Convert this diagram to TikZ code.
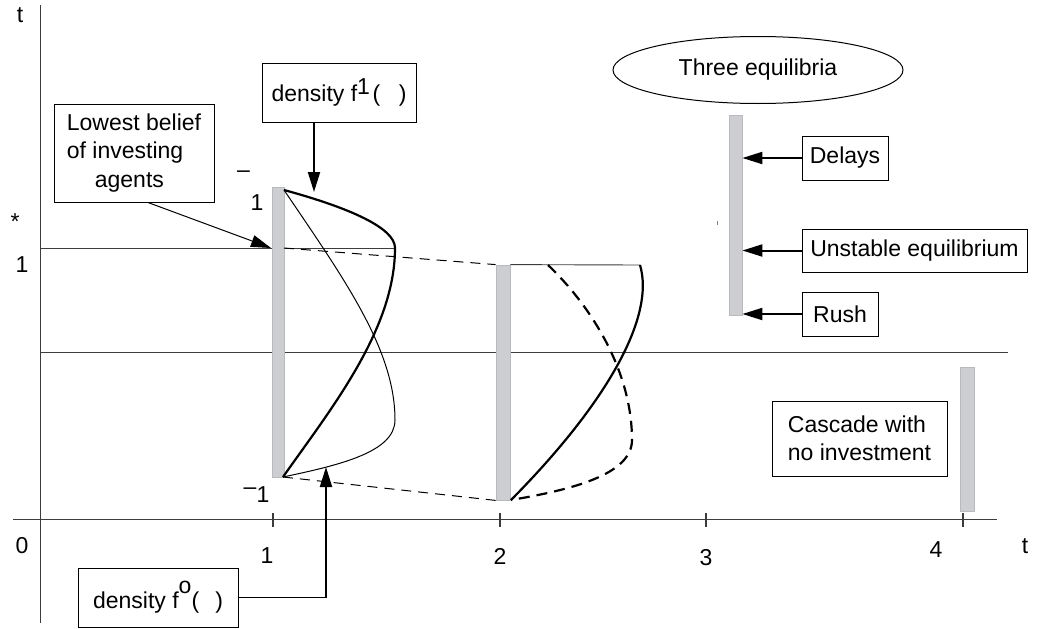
\documentclass[tikz,border=0pt]{standalone}
\usepackage{fontspec}
\setmainfont{Liberation Sans}
\usetikzlibrary{arrows.meta,shapes.geometric,calc}
\definecolor{barfill}{RGB}{205,206,209}
\definecolor{barline}{RGB}{185,186,190}
\definecolor{axisc}{RGB}{60,60,60}
\begin{document}
\begin{tikzpicture}[x=1pt,y=-1pt,
  lbl/.style={inner sep=0pt, anchor=base, font=\fontsize{23}{28.5}\selectfont},
  box/.style={draw, line width=1pt, inner sep=0pt, font=\fontsize{23}{28.5}\selectfont},
  barnode/.style={draw=barline, fill=barfill, line width=0.8pt, inner sep=0pt},
  thinln/.style={line width=0.9pt, draw=axisc},
  thickc/.style={line width=2.2pt},
  thinc/.style={line width=1pt},
  tdash/.style={line width=1pt, dash pattern=on 10pt off 7pt},
  Tdash/.style={line width=2.2pt, dash pattern=on 11pt off 7pt},
  arr/.style={line width=2pt, -{Triangle[length=20pt,width=12pt]}},
  arrthin/.style={line width=1pt, -{Triangle[length=20pt,width=12pt]}},
]
\useasboundingbox (0,0) rectangle (1042,629);

% axes
\coordinate (yTop) at (40,5);
\coordinate (yBot) at (40,623);
\coordinate (xL) at (13,519);
\coordinate (xR) at (997,519);
\draw[thinln] (yTop) -- (yBot);
\draw[thinln] (xL) -- (xR);
\foreach \x in {273,500,706,963} \draw[thinln, line width=1.3pt] (\x,513) -- (\x,527);

% horizontal reference lines
\coordinate (h1L) at (40,248);
\coordinate (M1) at (395,248);
\coordinate (h2L) at (40,352);
\coordinate (h2R) at (1008,352);
\draw[thinln] (h1L) -- (M1);
\draw[thinln] (h2L) -- (h2R);

% bars
\node[barnode, minimum width=12, minimum height=290] (b1) at (278,332) {};
\node[barnode, minimum width=14, minimum height=235] (b2) at (503,382.5) {};
\node[barnode, minimum width=13, minimum height=200] (b3) at (735.5,215) {};
\node[barnode, minimum width=14, minimum height=144] (b4) at (967,439) {};
\draw[gray, line width=0.8pt] (717,221) -- (717,225);

% curves at date 1
\coordinate (P1) at (284,190);
\coordinate (Q1) at (283,477);
\coordinate (N1) at (395,420);
\coordinate (D1) at (284,248);
\draw[thickc] (P1) .. controls (350,208) and (395,228) .. (M1) .. controls (395,330) and (330,410) .. (Q1);
\draw[thinc] (P1) .. controls (345,280) and (395,350) .. (N1) .. controls (395,452) and (340,465) .. (Q1);

% dashed links
\draw[tdash] (D1) -- (b2.north west);
\draw[tdash] (Q1) -- (b2.south west);

% curves at date 2
\coordinate (R2) at (640,265);
\coordinate (Q2) at (511,500);
\coordinate (S2) at (548,265);
\draw[thinln] (b2.north east) -- (R2);
\draw[thickc] (R2) .. controls (655,315) and (610,400) .. (Q2);
\draw[Tdash] (S2) .. controls (590,305) and (632,370) .. (632,440) .. controls (632,475) and (570,490) .. (Q2);

% boxes
\node[box, minimum width=154, minimum height=59] (f1) at (339,92.5) {density f\raisebox{0.28em}{1}\hspace{0.12em}(\hspace{0.8em})};
\node[box, minimum width=160, minimum height=98, align=left] (lowest) at (134,153) {Lowest belief\\of investing\\\hspace*{28pt}agents};
\node[box, minimum width=160, minimum height=59] (f0) at (158,597.5) {density f\raisebox{0.66em}{o}(\hspace{0.7em})};
\node[draw, ellipse, line width=1pt, inner sep=0pt, minimum width=290, minimum height=67, font=\fontsize{23}{28.5}\selectfont] (three) at (758,70) {Three equilibria};
\node[box, minimum width=86, minimum height=44] (delays) at (845,158) {Delays};
\node[box, minimum width=225, minimum height=43] (unstable) at (914.5,250.5) {Unstable equilibrium};
\node[box, minimum width=76, minimum height=44] (rush) at (840,314) {Rush};
\node[box, minimum width=175, minimum height=75, align=left] (cascade) at (859.5,438.5) {Cascade with\\no investment};

% arrows
\coordinate (f1tip) at (314,192);
\coordinate (lbtip) at (271,248);
\coordinate (f0tip) at (326,467);
\draw[arr] (f1.south -| f1tip) -- (f1tip);
\draw[arrthin] ($(lowest.south)+(14,0)$) -- (lbtip);
\draw[thinc] (f0.east) -- (f0.east -| f0tip);
\draw[arr] (f0.east -| f0tip) -- (f0tip);
\draw[arr] (delays.west) -- (delays.west -| b3.east);
\draw[arr] (unstable.west) -- (unstable.west -| b3.east);
\draw[arr] (rush.west) -- (rush.west -| b3.east);

% labels
\node[lbl] (tY) at (20,23) {t};
\node[lbl] (star) at (15,229) {*};
\node[lbl] (oneY) at (22,272) {1};
\node[lbl] (zero) at (22,553) {0};
\node[lbl] (x1) at (267,563) {1};
\node[lbl] (x2) at (500,564) {2};
\node[lbl] (x3) at (706,565) {3};
\node[lbl] (x4) at (936,557) {4};
\node[lbl] (tX) at (1025,553) {t};
\node[lbl] (barU) at (243.5,177) {–};
\node[lbl] (oneU) at (257,210) {1};
\node[lbl] (barL) at (250,494) {–};
\node[lbl] (oneL) at (263,502) {1};
\end{tikzpicture}
\end{document}
